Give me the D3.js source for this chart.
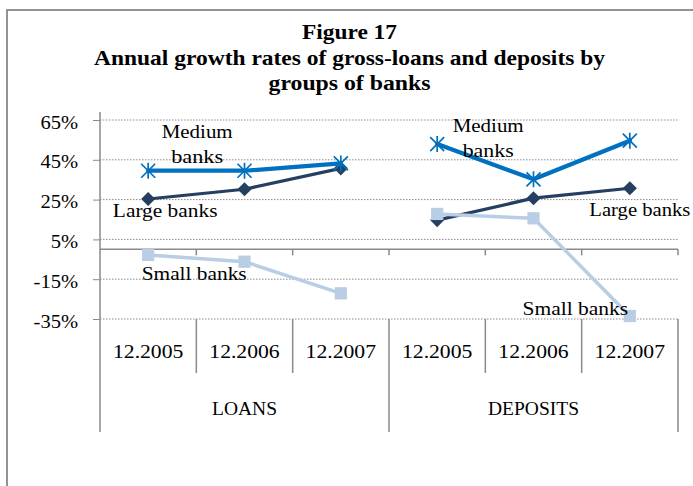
<!DOCTYPE html>
<html>
<head>
<meta charset="utf-8">
<script src="https://cdn.jsdelivr.net/npm/d3@7"></script>
<style>
  html, body { margin: 0; padding: 0; background: #fff; overflow: hidden; }
  text { font-family: "Liberation Serif", "Times New Roman", serif; fill: #000; }
</style>
</head>
<body>
<svg id="chart" width="693" height="486"></svg>
<script>
// Annual growth rates (%) by group of banks, loans then deposits
const groups = ["LOANS", "DEPOSITS"];
const periods = ["12.2005", "12.2006", "12.2007"];
const largeBanks  = [25.3, 30.2, 40.7, 14.7, 25.7, 30.7];
const mediumBanks = [39.5, 39.5, 43.2, 52.9, 35.2, 54.6];
const smallBanks  = [-2.8, -6.2, -22.1, 17.8, 15.6, -33.5];
const yTicks = [-35, -15, 5, 25, 45, 65];
const titleLines = [
  "Figure 17",
  "Annual growth rates of gross-loans and deposits by",
  "groups of banks"
];

const series = [
  { name: "Large banks",  values: largeBanks,  color: "#243F60", width: 3.25, marker: "diamond" },
  { name: "Medium banks", values: mediumBanks, color: "#0070C0", width: 4.25, marker: "star" },
  { name: "Small banks",  values: smallBanks,  color: "#B9CDE5", width: 3.5,  marker: "square" }
];

// Series annotations: point index, offset from that point, text lines
const annotations = [
  { s: 1, i: 0, dx: 49,  dy: [-32.7, -7.7], lines: ["Medium", "banks"], w: [71, 52] },
  { s: 0, i: 0, dx: 17,  dy: [17.7],        lines: ["Large banks"],     w: [104.6] },
  { s: 2, i: 0, dx: 46,  dy: [25],          lines: ["Small banks"],     w: [105] },
  { s: 1, i: 3, dx: 51,  dy: [-12.3, 13.3], lines: ["Medium", "banks"], w: [71, 51] },
  { s: 0, i: 5, dx: 10,  dy: [27.7],        lines: ["Large banks"],     w: [101] },
  { s: 2, i: 5, dx: -54.5, dy: [-1],        lines: ["Small banks"],     w: [105.6] }
];

const svg = d3.select("#chart");

// chart frame (extends past the visible page)
svg.append("rect")
  .attr("x", 7).attr("y", 10).attr("width", 760).attr("height", 560)
  .attr("fill", "none").attr("stroke", "#939393").attr("stroke-width", 2);

// title
const titleBase = [39, 65, 90];
const titleW = [95, 511, 162];
svg.append("g").selectAll("text").data(titleLines).join("text")
  .attr("x", 349.5).attr("y", (d, i) => titleBase[i])
  .attr("text-anchor", "middle")
  .attr("font-size", 21).attr("font-weight", "bold")
  .attr("textLength", (d, i) => titleW[i]).attr("lengthAdjust", "spacingAndGlyphs")
  .text(d => d);

const keys = [];
groups.forEach(g => periods.forEach(p => keys.push(g + "|" + p)));

const plotL = 100, plotR = 678, plotT = 120, plotB = 319;
const x = d3.scaleBand().domain(keys).range([plotL, plotR]).padding(0);
const y = d3.scaleLinear().domain([-35, 65]).range([plotB, plotT]);
const cx = i => x(keys[i]) + x.bandwidth() / 2;

const axisColor = "#8a8a8a";
const hStretch = 1.14;

// gridlines
svg.append("g").selectAll("line").data(yTicks).join("line")
  .attr("x1", plotL).attr("x2", plotR)
  .attr("y1", d => y(d)).attr("y2", d => y(d))
  .attr("stroke", "#8c8c8c").attr("stroke-width", 1)
  .attr("stroke-dasharray", "1.5,1.5");

// value axis
const yAxis = svg.append("g")
  .attr("transform", `translate(${plotL},0)`)
  .call(d3.axisLeft(y).tickValues(yTicks).tickFormat(d => d + "%")
    .tickSize(7).tickPadding(15));
yAxis.select(".domain").remove();
yAxis.selectAll(".tick line").attr("stroke", axisColor);
yAxis.selectAll(".tick text")
  .attr("font-size", 18).attr("dy", "0.45em")
  .attr("font-family", "Liberation Serif, serif").attr("fill", "#000");

// vertical axis line running down through the category label area
svg.append("line")
  .attr("x1", plotL).attr("x2", plotL)
  .attr("y1", plotT - 8).attr("y2", 432)
  .attr("stroke", axisColor).attr("stroke-width", 1.5);

// horizontal axis at zero with downward ticks
const xAxis = svg.append("g")
  .attr("transform", `translate(0,${y(0)})`);
xAxis.append("line")
  .attr("x1", plotL).attr("x2", plotR)
  .attr("stroke", axisColor).attr("stroke-width", 1.5);
xAxis.selectAll("line.tk").data(keys.slice(1).concat(["end"])).join("line")
  .attr("class", "tk")
  .attr("x1", d => d === "end" ? plotR : x(d))
  .attr("x2", d => d === "end" ? plotR : x(d))
  .attr("y1", 0).attr("y2", 6)
  .attr("stroke", axisColor).attr("stroke-width", 1.5);

// category label area: separators and labels
const sep = svg.append("g");
keys.forEach((k, i) => {
  if (i === 0) return;
  const isGroup = i % periods.length === 0;
  sep.append("line")
    .attr("x1", x(k)).attr("x2", x(k))
    .attr("y1", plotB).attr("y2", isGroup ? 432 : 373)
    .attr("stroke", axisColor).attr("stroke-width", 1.5);
});
sep.append("line")
  .attr("x1", plotR).attr("x2", plotR)
  .attr("y1", plotB).attr("y2", 432)
  .attr("stroke", axisColor).attr("stroke-width", 1.5);

svg.append("g").selectAll("text").data(keys).join("text")
  .attr("class", "cat")
  .attr("x", (d, i) => cx(i)).attr("y", 358)
  .attr("text-anchor", "middle").attr("font-size", 19)
  .text(d => d.split("|")[1]);

svg.append("g").selectAll("text").data(groups).join("text")
  .attr("class", "grp")
  .attr("x", (g, gi) => (x(keys[gi * 3]) + x(keys[gi * 3 + 2]) + x.bandwidth()) / 2)
  .attr("y", 415)
  .attr("text-anchor", "middle").attr("font-size", 19.5)
  .text(d => d);

// stretch tick and category labels horizontally
svg.selectAll(".tick text, text.cat").each(function () {
  const w = this.getComputedTextLength();
  d3.select(this).attr("textLength", w * hStretch).attr("lengthAdjust", "spacingAndGlyphs");
});

// series lines, broken between loans and deposits
const line = d3.line().x(d => cx(d.i)).y(d => y(d.v));
const lineLayer = svg.append("g");
series.forEach(s => {
  groups.forEach((g, gi) => {
    const pts = periods.map((p, pi) => ({ i: gi * 3 + pi, v: s.values[gi * 3 + pi] }));
    lineLayer.append("path")
      .attr("d", line(pts))
      .attr("fill", "none")
      .attr("stroke", s.color)
      .attr("stroke-width", s.width)
      .attr("stroke-linejoin", "round")
      .attr("stroke-linecap", "round");
  });
  const m = lineLayer.append("g").selectAll("g").data(s.values).join("g")
    .attr("transform", (v, i) => `translate(${cx(i)},${y(v)})`);
  if (s.marker === "diamond") {
    m.append("path")
      .attr("d", d3.symbol(d3.symbolSquare, 100)())
      .attr("transform", "rotate(45)")
      .attr("fill", s.color);
  } else if (s.marker === "square") {
    m.append("path")
      .attr("d", d3.symbol(d3.symbolSquare, 150)())
      .attr("fill", s.color);
  } else {
    m.append("path")
      .attr("d", "M-7,-7L7,7M-7,7L7,-7M0,-8L0,8")
      .attr("fill", "none")
      .attr("stroke", s.color)
      .attr("stroke-width", 1.7);
  }
});

// series name annotations
const annLayer = svg.append("g");
annotations.forEach(a => {
  const s = series[a.s];
  const px = cx(a.i), py = y(s.values[a.i]);
  a.lines.forEach((t, li) => {
    annLayer.append("text")
      .attr("x", px + a.dx).attr("y", py + a.dy[li])
      .attr("text-anchor", "middle").attr("font-size", 18)
      .attr("textLength", a.w[li]).attr("lengthAdjust", "spacingAndGlyphs")
      .text(t);
  });
});
</script>
</body>
</html>
